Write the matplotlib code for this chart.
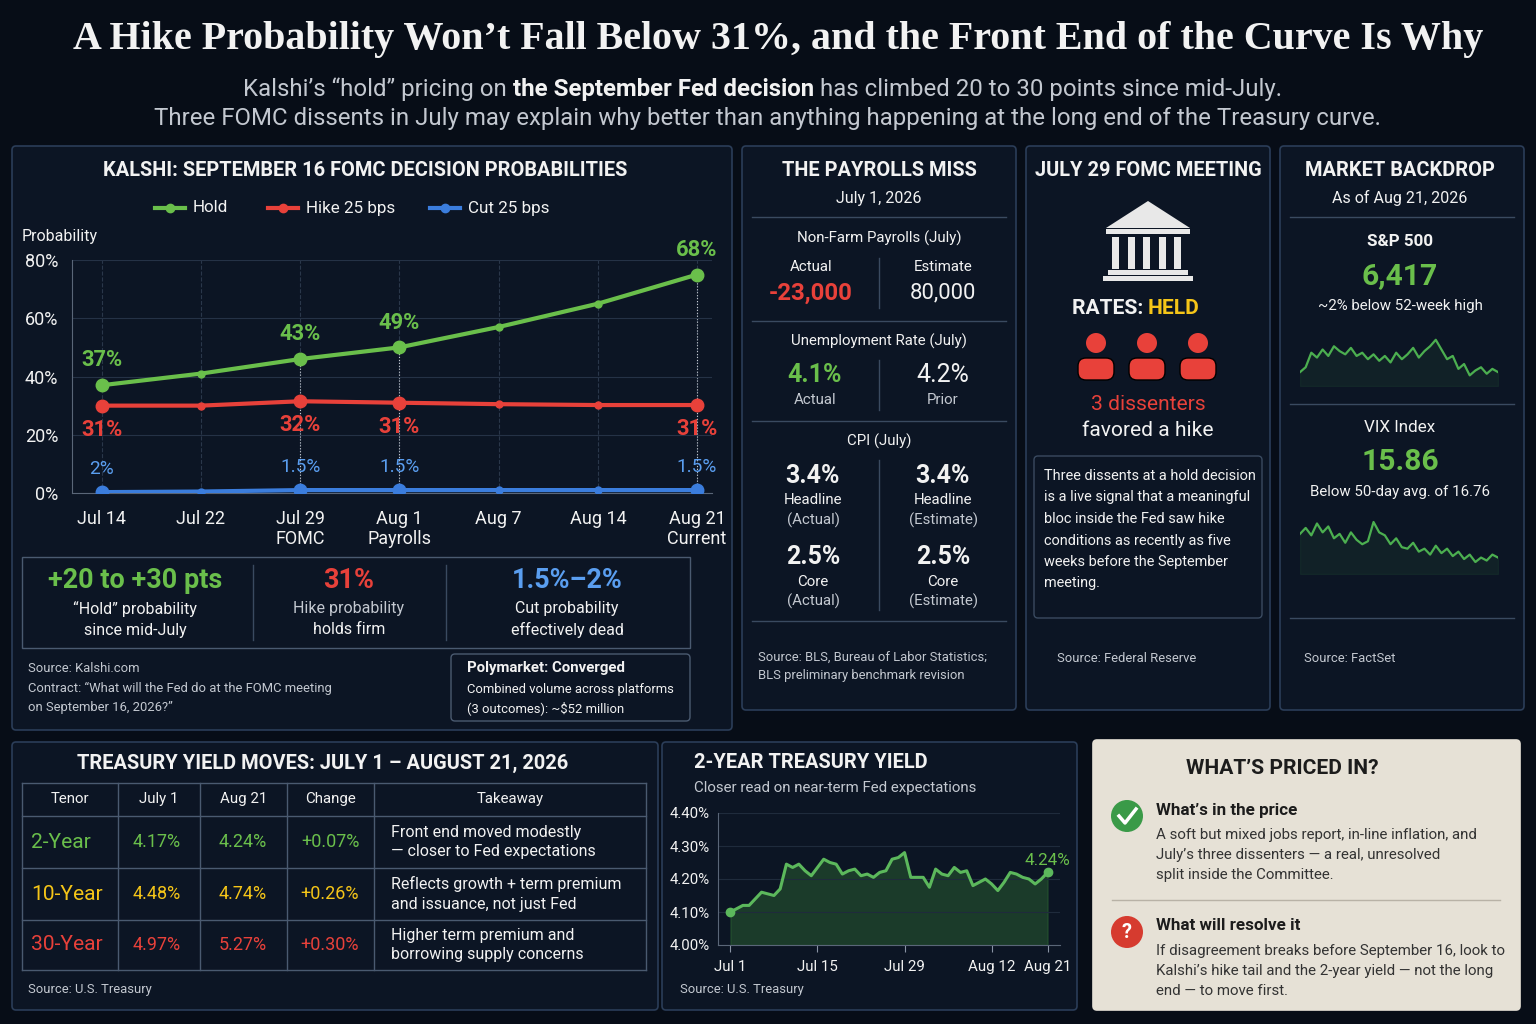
import matplotlib
matplotlib.use("Agg")
import matplotlib.pyplot as plt
from matplotlib.patches import FancyBboxPatch, Polygon, Rectangle, Circle
import numpy as np

plt.rcParams['font.family'] = ['Roboto', 'DejaVu Sans']

# ---- data ----
prob_ticks = ["Jul 14", "Jul 22", "Jul 29\nFOMC", "Aug 1\nPayrolls", "Aug 7", "Aug 14", "Aug 21\nCurrent"]
hold = [37, 41, 46, 50, 57, 65, 75]
hike = [30, 30, 31.5, 31, 30.5, 30.2, 30.2]
cut = [0.3, 0.5, 1.0, 1.0, 1.0, 1.0, 1.0]
hold_lbl = {0: "37%", 2: "43%", 3: "49%", 6: "68%"}
hike_lbl = {0: "31%", 2: "32%", 3: "31%", 6: "31%"}
cut_lbl = {0: "2%", 2: "1.5%", 3: "1.5%", 6: "1.5%"}

y2_vals = [4.10, 4.11, 4.12, 4.12, 4.14, 4.16, 4.155, 4.15, 4.17, 4.245, 4.235, 4.245, 4.225,
           4.21, 4.235, 4.26, 4.25, 4.245, 4.215, 4.225, 4.23, 4.21, 4.215, 4.205, 4.22, 4.225,
           4.26, 4.265, 4.28, 4.205, 4.205, 4.205, 4.175, 4.23, 4.215, 4.21, 4.235, 4.22, 4.225,
           4.18, 4.19, 4.20, 4.185, 4.165, 4.19, 4.22, 4.215, 4.205, 4.20, 4.185, 4.20, 4.22]
y2_ticks = [0, 14, 28, 42, 51]
y2_ticklbl = ["Jul 1", "Jul 15", "Jul 29", "Aug 12", "Aug 21"]

spx = [6320, 6335, 6380, 6365, 6390, 6370, 6400, 6385, 6375, 6395, 6370, 6380, 6360, 6375,
       6355, 6370, 6350, 6380, 6360, 6375, 6395, 6365, 6385, 6400, 6420, 6390, 6360, 6370,
       6330, 6345, 6310, 6325, 6335, 6315, 6330, 6320]
vix = [16.9, 17.3, 16.8, 17.6, 17.0, 17.4, 16.6, 16.9, 16.3, 17.0, 16.5, 16.2, 16.4, 17.7,
       17.0, 16.8, 16.2, 16.6, 16.0, 15.9, 16.3, 15.7, 15.9, 15.5, 16.1, 15.6, 15.9, 15.4,
       15.7, 15.2, 15.5, 15.0, 15.3, 15.1, 15.5, 15.3]

tenors = ["2-Year", "10-Year", "30-Year"]
jul1 = ["4.17%", "4.48%", "4.97%"]
aug21 = ["4.24%", "4.74%", "5.27%"]
chg = ["+0.07%", "+0.26%", "+0.30%"]
takeaway = ["Front end moved modestly\n— closer to Fed expectations",
            "Reflects growth + term premium\nand issuance, not just Fed",
            "Higher term premium and\nborrowing supply concerns"]
tenor_col = ["#6abf4b", "#f5c518", "#e8413a"]

BG = "#070d17"
PANEL = "#0c1524"
EDGE = "#2b3d58"
GREEN = "#6abf4b"
RED = "#e8413a"
BLUE = "#3b7ddd"
LBLUE = "#5a9ef0"
YEL = "#f5c518"
WH = "#f2f2f2"
GR = "#c3c8d0"

W, H = 1536, 1024
fig = plt.figure(figsize=(W / 100, H / 100), dpi=100, facecolor=BG)
ax0 = fig.add_axes([0, 0, 1, 1], zorder=0)
ax0.set_xlim(0, W)
ax0.set_ylim(H, 0)
ax0.axis("off")


def px(size):
    return size * 0.72


def t(x, y, s, size, color=WH, weight="normal", ha="center", va="center", **kw):
    return ax0.text(x, y, s, fontsize=px(size), color=color, fontweight=weight, ha=ha, va=va, **kw)


def panel(x0, y0, x1, y1, fc=PANEL, ec=EDGE):
    ax0.add_patch(FancyBboxPatch((x0, y0), x1 - x0, y1 - y0, boxstyle="round,pad=0,rounding_size=4",
                                 fc=fc, ec=ec, lw=1.2))


def hline(x0, x1, y, c="#3a4a60"):
    ax0.plot([x0, x1], [y, y], color=c, lw=1)


def vline(x, y0, y1, c="#3a4a60"):
    ax0.plot([x, x], [y0, y1], color=c, lw=1)


def sub_axes(x0, y0, x1, y1):
    a = fig.add_axes([x0 / W, 1 - y1 / H, (x1 - x0) / W, (y1 - y0) / H], zorder=2)
    a.patch.set_alpha(0)
    return a


# ---- title ----
t(778, 40, "A Hike Probability Won’t Fall Below 31%, and the Front End of the Curve Is Why", 40,
  weight="bold", family="Liberation Serif")
s1 = t(243, 101, "Kalshi’s “hold” pricing on ", 24, color=GR, ha="left", va="bottom")
s2 = ax0.annotate("the September Fed decision", xy=(1, 0), xycoords=s1, fontsize=px(24), color=WH,
                  fontweight="bold", ha="left", va="bottom")
ax0.annotate(" has climbed 20 to 30 points since mid-July.", xy=(1, 0), xycoords=s2, fontsize=px(24),
             color=GR, ha="left", va="bottom")
t(768, 118, "Three FOMC dissents in July may explain why better than anything happening at the long end of the Treasury curve.",
  24, color=GR)

# ---- panels ----
panel(12, 146, 732, 730)
panel(742, 146, 1016, 710)
panel(1026, 146, 1270, 710)
panel(1280, 146, 1524, 710)
panel(12, 742, 658, 1010)
panel(662, 742, 1077, 1010)
panel(1093, 740, 1520, 1010, fc="#e6e1d6", ec="#e6e1d6")

# ---- Kalshi chart ----
t(365, 170, "KALSHI: SEPTEMBER 16 FOMC DECISION PROBABILITIES", 20, weight="bold")
for lx, name, c in [(155, "Hold", GREEN), (268, "Hike 25 bps", RED), (430, "Cut 25 bps", BLUE)]:
    ax0.plot([lx, lx + 30], [208, 208], color=c, lw=3)
    ax0.plot(lx + 15, 208, "o", color=c, ms=6)
    t(lx + 38, 208, name, 17, ha="left")
t(22, 236, "Probability", 16, ha="left")

xs = np.arange(len(prob_ticks))
ax = sub_axes(72, 260, 712, 493)
ax.set_xlim(-0.3, 6.15)
ax.set_ylim(0, 80)
for sp in ["top", "right"]:
    ax.spines[sp].set_visible(False)
for sp in ["left", "bottom"]:
    ax.spines[sp].set_color("#5a6678")
ax.set_yticks([0, 20, 40, 60, 80])
ax.set_yticklabels(["0%", "20%", "40%", "60%", "80%"])
ax.tick_params(axis="y", colors=WH, labelsize=px(18), length=0, pad=10)
ax.set_xticks(xs)
ax.set_xticklabels(prob_ticks)
ax.tick_params(axis="x", colors=WH, labelsize=px(18), length=0, pad=12)
ax.grid(axis="y", color="#253246", lw=0.8)
for d in xs:
    ax.axvline(d, color="#2a374a", lw=0.8, ls="--", zorder=0)
for i in [2, 3, 6]:
    ax.plot([xs[i]] * 2, [0, hold[i]], color="#c8ccd2", lw=0.8, ls=":", zorder=1)
for vals, c, lbls, off in [(hold, GREEN, hold_lbl, 8.5), (hike, RED, hike_lbl, -8.2), (cut, BLUE, cut_lbl, 8)]:
    ax.plot(xs, vals, color=c, lw=3, zorder=3)
    ax.plot(xs, vals, "o", color=c, ms=5, zorder=3)
    ax.plot([xs[i] for i in lbls], [vals[i] for i in lbls], "o", color=c, ms=9, zorder=4)
    lc = LBLUE if c == BLUE else c
    for i, s in lbls.items():
        ax.text(xs[i], vals[i] + off, s, color=lc, fontsize=px(22 if c != BLUE else 19),
                fontweight="bold" if c != BLUE else "normal", ha="center", va="center", clip_on=False)

# stat boxes
ax0.add_patch(Rectangle((22, 557), 668, 91, fc="none", ec="#4a5a70", lw=1))
vline(253, 565, 640)
vline(446, 565, 640)
t(135, 580, "+20 to +30 pts", 27, color=GREEN, weight="bold")
t(135, 609, "“Hold” probability", 16)
t(135, 630, "since mid-July", 16)
t(349, 580, "31%", 27, color=RED, weight="bold")
t(349, 609, "Hike probability", 16, color=GR)
t(349, 630, "holds firm", 16)
t(567, 580, "1.5%–2%", 27, color=LBLUE, weight="bold")
t(567, 609, "Cut probability", 16)
t(567, 630, "effectively dead", 16)
t(28, 669, "Source: Kalshi.com", 13, ha="left", color=GR)
t(28, 688, "Contract: “What will the Fed do at the FOMC meeting", 13, ha="left", color=GR)
t(28, 707, "on September 16, 2026?”", 13, ha="left", color=GR)
ax0.add_patch(FancyBboxPatch((451, 654), 239, 67, boxstyle="round,pad=0,rounding_size=4",
                             fc="#0c1524", ec="#4a5a70", lw=1))
t(467, 668, "Polymarket: Converged", 15, ha="left", weight="bold")
t(467, 689, "Combined volume across platforms", 13, ha="left")
t(467, 708, "(3 outcomes): ~$52 million", 13, ha="left")

# ---- payrolls ----
t(879, 170, "THE PAYROLLS MISS", 20, weight="bold")
t(879, 198, "July 1, 2026", 16)
hline(752, 1006, 217)
t(879, 238, "Non-Farm Payrolls (July)", 15)
t(811, 267, "Actual", 15)
t(943, 267, "Estimate", 15)
t(811, 293, "-23,000", 24, color=RED, weight="bold")
t(943, 293, "80,000", 22)
vline(879, 258, 308)
hline(752, 1006, 321)
t(879, 341, "Unemployment Rate (July)", 15)
t(815, 375, "4.1%", 25, color=GREEN, weight="bold")
t(943, 375, "4.2%", 25)
t(815, 400, "Actual", 15, color=GR)
t(943, 400, "Prior", 15, color=GR)
vline(879, 360, 410)
hline(752, 1006, 421)
t(879, 441, "CPI (July)", 15)
vline(879, 460, 610)
for cx, who in [(813, "(Actual)"), (943, "(Estimate)")]:
    t(cx, 476, "3.4%", 25, weight="bold")
    t(cx, 500, "Headline", 15)
    t(cx, 520, who, 15, color=GR)
    t(cx, 557, "2.5%", 25, weight="bold")
    t(cx, 582, "Core", 15)
    t(cx, 601, who, 15, color=GR)
hline(752, 1006, 621)
t(758, 657, "Source: BLS, Bureau of Labor Statistics;", 13, ha="left", color=GR)
t(758, 676, "BLS preliminary benchmark revision", 13, ha="left", color=GR)

# ---- FOMC ----
t(1148, 170, "JULY 29 FOMC MEETING", 20, weight="bold")
bc = "#e8e8e8"
ax0.add_patch(Polygon([[1106, 228], [1148, 201], [1190, 228]], closed=True, fc=bc))
ax0.add_patch(Rectangle((1106, 229), 84, 5, fc=bc))
for i in range(5):
    ax0.add_patch(Rectangle((1112 + i * 15.5, 237), 7, 32, fc=bc))
ax0.add_patch(Rectangle((1108, 270), 80, 5, fc=bc))
ax0.add_patch(Rectangle((1103, 276), 90, 5, fc=bc))
ax0.text(1148, 308, "RATES: ", fontsize=px(21), color=WH, fontweight="bold", ha="right", va="center")
t(1148, 308, "HELD", 21, color=YEL, weight="bold", ha="left")
for cx in [1096, 1147, 1198]:
    ax0.add_patch(Circle((cx, 343), 10, fc=RED))
    ax0.add_patch(FancyBboxPatch((cx - 18, 358), 36, 22, boxstyle="round,pad=0,rounding_size=8", fc=RED))
t(1148, 404, "3 dissenters", 21, color=RED)
t(1148, 431, "favored a hike", 21)
ax0.add_patch(FancyBboxPatch((1034, 456), 228, 162, boxstyle="round,pad=0,rounding_size=4",
                             fc=PANEL, ec="#3a4a60", lw=1))
for i, line in enumerate(["Three dissents at a hold decision", "is a live signal that a meaningful",
                          "bloc inside the Fed saw hike", "conditions as recently as five",
                          "weeks before the September", "meeting."]):
    t(1044, 476 + i * 21.5, line, 14.5, ha="left")
t(1057, 659, "Source: Federal Reserve", 13, ha="left", color=GR)

# ---- market backdrop ----
t(1400, 170, "MARKET BACKDROP", 20, weight="bold")
t(1400, 198, "As of Aug 21, 2026", 16)
hline(1290, 1514, 217)
t(1400, 241, "S&P 500", 17, weight="bold")
t(1400, 276, "6,417", 30, color=GREEN, weight="bold")
t(1400, 306, "~2% below 52-week high", 15)
hline(1290, 1514, 404)
t(1400, 427, "VIX Index", 17)
t(1400, 462, "15.86", 30, color=GREEN, weight="bold")
t(1400, 492, "Below 50-day avg. of 16.76", 15)
hline(1290, 1514, 618)
t(1304, 659, "Source: FactSet", 13, ha="left", color=GR)
for vals, (y0, y1) in [(spx, (338, 386)), (vix, (520, 574))]:
    a = sub_axes(1300, y0, 1498, y1)
    sx = np.arange(len(vals))
    lo = min(vals) - (max(vals) - min(vals)) * 0.3
    a.plot(sx, vals, color="#4caf50", lw=1.6)
    a.fill_between(sx, vals, lo, color="#4caf50", alpha=0.08)
    a.set_xlim(0, len(vals) - 1)
    a.set_ylim(lo, max(vals) + (max(vals) - min(vals)) * 0.05)
    a.axis("off")

# ---- treasury table ----
t(323, 763, "TREASURY YIELD MOVES: JULY 1 – AUGUST 21, 2026", 20, weight="bold")
cols = [22, 118, 200, 287, 374, 646]
rows = [783, 816, 868, 920, 970]
for y in rows:
    hline(22, 646, y, c="#4a5a70")
for x in cols:
    vline(x, 783, 970, c="#4a5a70")
heads = ["Tenor", "July 1", "Aug 21", "Change", "Takeaway"]
for i, h in enumerate(heads):
    t((cols[i] + cols[i + 1]) / 2, 799, h, 15)
for r in range(3):
    yc = (rows[r + 1] + rows[r + 2]) / 2
    t(31, yc, tenors[r], 21, color=tenor_col[r], ha="left")
    t(157, yc, jul1[r], 18, color=tenor_col[r])
    t(243, yc, aug21[r], 18, color=tenor_col[r])
    t(330, yc, chg[r], 18, color=tenor_col[r])
    t(391, yc, takeaway[r], 16, ha="left", linespacing=1.35)
t(28, 990, "Source: U.S. Treasury", 13, ha="left", color=GR)

# ---- 2-year yield ----
t(694, 763, "2-YEAR TREASURY YIELD", 20, weight="bold", ha="left")
t(694, 788, "Closer read on near-term Fed expectations", 15, ha="left", color=GR)
ay = sub_axes(718, 813, 1060, 945)
days2 = np.arange(len(y2_vals))
ay.plot(days2, y2_vals, color="#5cb85c", lw=2.2)
ay.fill_between(days2, y2_vals, 4.0, color="#2e6b32", alpha=0.45)
ay.plot([0, days2[-1]], [y2_vals[0], y2_vals[-1]], "o", color="#5cb85c", ms=6)
ay.text(days2[-1], y2_vals[-1] + 0.035, "4.24%", color="#6abf4b", fontsize=px(17), ha="center", va="center")
ay.set_xlim(-2, 53)
ay.set_ylim(4.0, 4.4)
ay.set_yticks([4.0, 4.1, 4.2, 4.3, 4.4])
ay.set_yticklabels(["4.00%", "4.10%", "4.20%", "4.30%", "4.40%"])
ay.set_xticks(y2_ticks)
ay.set_xticklabels(y2_ticklbl)
ay.tick_params(axis="y", colors=WH, labelsize=px(15), length=0, pad=6)
ay.tick_params(axis="x", colors=WH, labelsize=px(15), length=5, color="#8a94a4", pad=6)
ay.grid(axis="y", color="#1f2b3c", lw=0.8)
for sp in ["top", "right"]:
    ay.spines[sp].set_visible(False)
for sp in ["left", "bottom"]:
    ay.spines[sp].set_color("#5a6678")
t(680, 990, "Source: U.S. Treasury", 13, ha="left", color=GR)

# ---- what's priced in ----
DK = "#1c1c1c"
t(1282, 768, "WHAT’S PRICED IN?", 21, color=DK, weight="bold")
ax0.add_patch(Circle((1127, 816), 16, fc="#3a9a48"))
ax0.plot([1119, 1125, 1136], [816, 823, 809], color="white", lw=2.5)
t(1156, 810, "What’s in the price", 17, color=DK, weight="bold", ha="left")
for i, line in enumerate(["A soft but mixed jobs report, in-line inflation, and",
                          "July’s three dissenters — a real, unresolved",
                          "split inside the Committee."]):
    t(1156, 835 + i * 20, line, 15, color="#333333", ha="left")
hline(1112, 1500, 900, c="#b8b2a6")
ax0.add_patch(Circle((1127, 932), 16, fc="#d63b2f"))
t(1127, 932, "?", 20, color="white", weight="bold")
t(1156, 926, "What will resolve it", 17, color=DK, weight="bold", ha="left")
for i, line in enumerate(["If disagreement breaks before September 16, look to",
                          "Kalshi’s hike tail and the 2-year yield — not the long",
                          "end — to move first."]):
    t(1156, 951 + i * 20, line, 15, color="#333333", ha="left")

fig.savefig("out.png", dpi=100, facecolor=BG)
